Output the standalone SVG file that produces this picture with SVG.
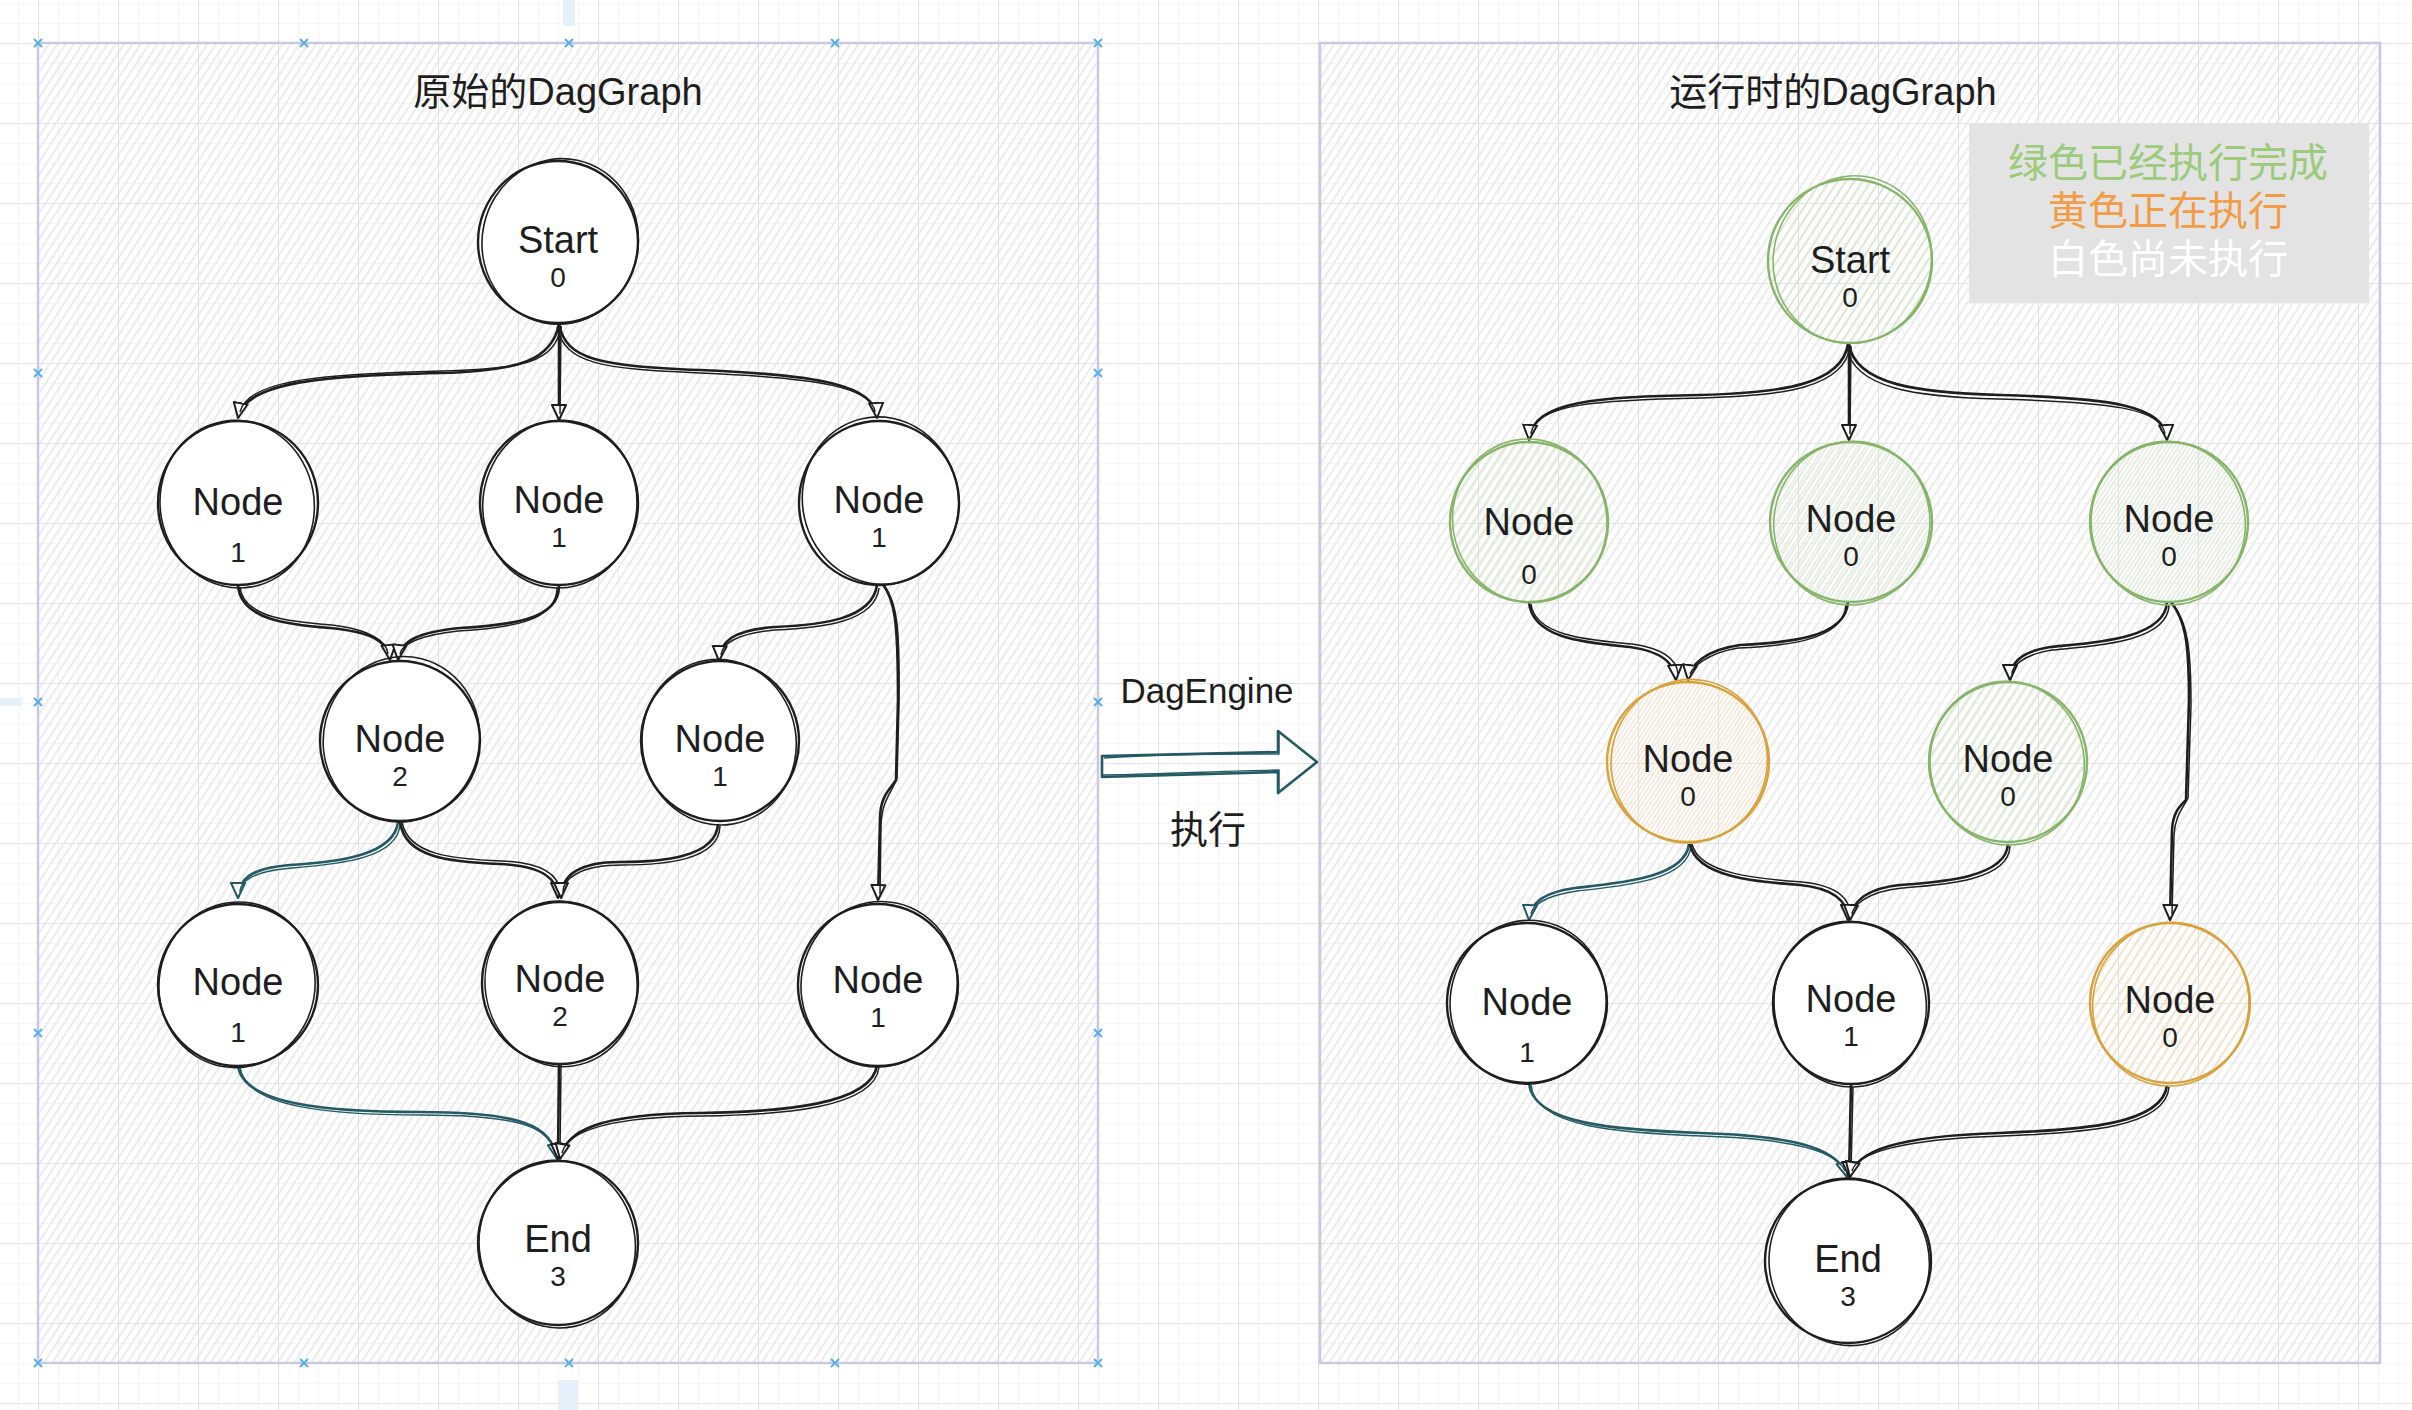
<svg xmlns="http://www.w3.org/2000/svg" xmlns:xlink="http://www.w3.org/1999/xlink" width="2412" height="1410" viewBox="0 0 2412 1410">
<defs>
<pattern id="gridMinor" x="38" y="43" width="20" height="20" patternUnits="userSpaceOnUse">
<path d="M0,0 H20 M0,0 V20" stroke="#efefef" stroke-width="1.2" fill="none"/>
</pattern>
<pattern id="gridMajor" x="38" y="43" width="80" height="80" patternUnits="userSpaceOnUse">
<path d="M0,0 H80 M0,0 V80" stroke="#d2d2d2" stroke-width="1.2" fill="none"/>
</pattern>
<pattern id="hatch" width="7" height="7" patternUnits="userSpaceOnUse" patternTransform="rotate(33)">
<line x1="2" y1="0" x2="2" y2="7" stroke="#e2e2e2" stroke-width="1.3"/>
</pattern>
<pattern id="hG" width="7" height="7" patternUnits="userSpaceOnUse" patternTransform="rotate(33)">
<line x1="2" y1="0" x2="2" y2="7" stroke="#d6e8ca" stroke-width="1.4"/>
</pattern>
<pattern id="hO" width="7" height="7" patternUnits="userSpaceOnUse" patternTransform="rotate(33)">
<line x1="2" y1="0" x2="2" y2="7" stroke="#fbe0c2" stroke-width="1.4"/>
</pattern>
<marker id="arrK" viewBox="0 0 18 18" refX="16" refY="9" markerWidth="18" markerHeight="18" markerUnits="userSpaceOnUse" orient="auto">
<path d="M1,2 L16,9 L1,16 Z" fill="#fff" stroke="#1e1e1e" stroke-width="2" stroke-linejoin="round"/>
</marker>
<marker id="arrT" viewBox="0 0 18 18" refX="16" refY="9" markerWidth="18" markerHeight="18" markerUnits="userSpaceOnUse" orient="auto">
<path d="M1,2 L16,9 L1,16 Z" fill="#fff" stroke="#245a63" stroke-width="2" stroke-linejoin="round"/>
</marker>
<style>
.frame{fill:url(#hatch);stroke:#cbc8e2;stroke-width:2.5}
.sel{stroke:#5aaef0;stroke-width:2;fill:none}
.w1{fill:#fff;stroke:#1e1e1e;stroke-width:2.4}
.w2{fill:none;stroke:#1e1e1e;stroke-width:1.6}
.g1{fill:url(#hG);stroke:#86b56a;stroke-width:2.4}
.g2{fill:none;stroke:#86b56a;stroke-width:1.6}
.o1{fill:url(#hO);stroke:#d8a23c;stroke-width:2.4}
.o2{fill:none;stroke:#d8a23c;stroke-width:1.6}
.t{font-family:"Liberation Sans","Noto Sans CJK SC",sans-serif;font-size:38px;fill:#1e1e1e;text-anchor:middle}
.n{font-size:28px}
.title{font-family:"Liberation Sans","Noto Sans CJK SC",sans-serif;font-size:38px;fill:#1e1e1e;text-anchor:middle}
.leg{font-family:"Liberation Sans","Noto Sans CJK SC",sans-serif;font-size:40px;text-anchor:middle}
.ck{fill:none;stroke:#1e1e1e;stroke-width:2.6;marker-end:url(#arrK)}
.ct{fill:none;stroke:#245a63;stroke-width:2.6;marker-end:url(#arrT)}
.dk{fill:none;stroke:#1e1e1e;stroke-width:1.5}
.dt{fill:none;stroke:#245a63;stroke-width:1.5}
</style>
</defs>

<rect x="0" y="0" width="2412" height="1410" fill="#ffffff"/>
<rect x="0" y="0" width="2412" height="1410" fill="url(#gridMinor)"/>
<rect x="0" y="0" width="2412" height="1410" fill="url(#gridMajor)"/>

<rect x="563" y="0" width="12" height="26" fill="#e4f1fb"/>
<rect x="558" y="1380" width="20" height="30" fill="#e4f1fb"/>
<rect x="0" y="698" width="22" height="8" fill="#e4f1fb"/>

<g id="frame-left">
<rect class="frame" x="38" y="43" width="1060" height="1320"/>
<text class="title" x="558" y="105">原始的DagGraph</text>
</g>
<g id="frame-right">
<rect class="frame" x="1320" y="43" width="1060" height="1320"/>
<text class="title" x="1833" y="105">运行时的DagGraph</text>
</g>

<g id="selection-handles">
<path class="sel" d="M34,39 l8,8 m0,-8 l-8,8 M300,39 l8,8 m0,-8 l-8,8 M565,39 l8,8 m0,-8 l-8,8 M831,39 l8,8 m0,-8 l-8,8 M1094,39 l8,8 m0,-8 l-8,8 M34,1359 l8,8 m0,-8 l-8,8 M300,1359 l8,8 m0,-8 l-8,8 M565,1359 l8,8 m0,-8 l-8,8 M831,1359 l8,8 m0,-8 l-8,8 M1094,1359 l8,8 m0,-8 l-8,8 M34,369 l8,8 m0,-8 l-8,8 M34,698 l8,8 m0,-8 l-8,8 M34,1029 l8,8 m0,-8 l-8,8 M1094,369 l8,8 m0,-8 l-8,8 M1094,698 l8,8 m0,-8 l-8,8 M1094,1029 l8,8 m0,-8 l-8,8"/>
</g>

<g id="legend">
<rect x="1969" y="123" width="400" height="180" fill="#e3e3e3"/>
<text class="leg" x="2168" y="177" fill="#9ccb7b">绿色已经执行完成</text>
<text class="leg" x="2168" y="225" fill="#f39c47">黄色正在执行</text>
<text class="leg" x="2168" y="273" fill="#ffffff">白色尚未执行</text>
</g>

<g id="engine-arrow">
<text class="t" x="1207" y="703" style="font-size:35px">DagEngine</text>
<path d="M1102,756 L1278,752 L1278,731 L1317,762 L1278,793 L1278,772 L1102,777 Z" fill="none" stroke="#245a63" stroke-width="2.6" stroke-linejoin="round"/>
<path d="M1104,758 C1180,753 1240,754 1279,754 L1279,733 M1279,791 L1279,770 C1230,771 1160,774 1103,775" fill="none" stroke="#245a63" stroke-width="1.4"/>
<text class="t" x="1208" y="843">执行</text>
</g>

<g id="connectors">
<!-- left graph -->
<path class="ck" d="M559,324 C552,360 520,371 440,373 C330,376 245,380 238,418"/>
<path class="dk" d="M561,326 C555,363 523,369 442,371 C332,374 248,378 240,412"/>
<path class="ck" d="M559,324 L559,420"/>
<path class="dk" d="M561,326 L560,414"/>
<path class="ck" d="M559,324 C566,360 600,366 700,370 C820,375 875,385 877,418"/>
<path class="dk" d="M557,327 C565,364 602,369 700,373 C822,378 872,388 875,412"/>
<path class="ck" d="M238,585 C240,620 290,625 330,628 C370,632 388,640 390,660"/>
<path class="dk" d="M240,587 C243,618 292,622 332,625 C372,630 387,642 388,654"/>
<path class="ck" d="M559,585 C560,620 510,625 460,628 C420,632 400,640 398,660"/>
<path class="dk" d="M557,588 C557,622 508,628 458,631 C420,635 402,644 400,654"/>
<path class="ck" d="M877,585 C872,620 820,625 775,627 C735,630 720,640 719,661"/>
<path class="dk" d="M879,588 C875,622 822,628 775,630 C737,633 722,644 721,655"/>
<path class="ck" d="M882,583 C895,600 898,620 898,700 L896,780 C890,790 880,795 880,820 L878,900"/>
<path class="dk" d="M884,585 C897,603 900,625 899,705 L897,778 C892,792 882,800 881,825 L880,894"/>
<path class="ct" d="M398,822 C394,855 340,862 290,865 C250,868 238,880 238,898"/>
<path class="dt" d="M400,825 C397,858 342,864 292,868 C252,871 240,882 240,892"/>
<path class="ck" d="M400,822 C405,858 450,862 500,864 C545,866 558,880 558,898"/>
<path class="dk" d="M402,822 C408,855 452,859 502,861 C547,863 559,877 560,892"/>
<path class="ck" d="M718,824 C716,858 660,862 620,862 C575,862 561,878 561,898"/>
<path class="dk" d="M720,826 C719,861 662,865 622,865 C578,865 563,880 563,892"/>
<path class="ct" d="M238,1065 C242,1105 330,1112 420,1112 C520,1112 552,1125 557,1159"/>
<path class="dt" d="M240,1067 C245,1108 332,1115 422,1115 C522,1115 550,1128 555,1153"/>
<path class="ck" d="M559,1063 L558,1159"/>
<path class="dk" d="M561,1065 L560,1153"/>
<path class="ck" d="M877,1065 C872,1105 780,1112 700,1113 C600,1114 565,1130 560,1159"/>
<path class="dk" d="M879,1067 C875,1108 782,1115 702,1116 C602,1117 567,1133 562,1153"/>
<!-- right graph -->
<path class="ck" d="M1848,344 C1842,385 1780,393 1700,395 C1600,397 1532,400 1529,440"/>
<path class="dk" d="M1850,346 C1845,388 1782,396 1702,398 C1602,400 1534,403 1531,434"/>
<path class="ck" d="M1849,344 L1849,440"/>
<path class="dk" d="M1851,346 L1850,434"/>
<path class="ck" d="M1849,344 C1855,385 1920,393 2000,395 C2110,398 2165,405 2167,440"/>
<path class="dk" d="M1847,347 C1853,389 1918,397 1998,399 C2108,402 2162,408 2165,434"/>
<path class="ck" d="M1529,602 C1532,640 1590,643 1630,647 C1665,652 1675,665 1676,680"/>
<path class="dk" d="M1531,604 C1535,637 1592,640 1632,644 C1667,649 1677,662 1678,674"/>
<path class="ck" d="M1848,602 C1846,640 1780,643 1740,645 C1705,650 1690,665 1688,680"/>
<path class="dk" d="M1846,605 C1843,643 1778,646 1738,648 C1707,653 1692,668 1690,674"/>
<path class="ck" d="M2167,602 C2165,640 2090,643 2050,647 C2018,652 2010,665 2010,680"/>
<path class="dk" d="M2169,605 C2168,643 2092,646 2052,650 C2020,655 2012,668 2012,674"/>
<path class="ck" d="M2171,602 C2185,620 2189,640 2189,700 L2186,800 C2180,806 2173,812 2172,830 L2170,920"/>
<path class="dk" d="M2173,604 C2187,623 2191,645 2191,705 L2188,798 C2183,808 2175,816 2174,835 L2172,914"/>
<path class="ct" d="M1689,844 C1685,878 1620,883 1575,888 C1540,893 1530,905 1529,920"/>
<path class="dt" d="M1691,846 C1688,881 1622,886 1577,891 C1542,896 1532,907 1531,914"/>
<path class="ck" d="M1690,844 C1696,878 1760,882 1800,885 C1840,889 1848,905 1848,920"/>
<path class="dk" d="M1692,844 C1699,875 1762,879 1802,882 C1842,886 1850,902 1850,914"/>
<path class="ck" d="M2008,844 C2006,878 1940,882 1900,885 C1862,889 1851,905 1850,920"/>
<path class="dk" d="M2010,846 C2009,881 1942,885 1902,888 C1864,892 1853,907 1852,914"/>
<path class="ct" d="M1529,1083 C1532,1125 1620,1130 1700,1133 C1800,1136 1840,1150 1847,1177"/>
<path class="dt" d="M1531,1085 C1535,1128 1622,1133 1702,1136 C1802,1139 1838,1153 1845,1171"/>
<path class="ck" d="M1851,1085 L1849,1177"/>
<path class="dk" d="M1853,1087 L1851,1171"/>
<path class="ck" d="M2167,1085 C2163,1125 2080,1130 2000,1133 C1900,1136 1855,1150 1850,1177"/>
<path class="dk" d="M2169,1087 C2166,1128 2082,1133 2002,1136 C1902,1139 1857,1153 1852,1171"/>
</g>

<!-- left graph nodes -->
<g id="L-start" transform="translate(558,242)">
<ellipse class="w1" rx="80" ry="81"/>
<ellipse class="w2" rx="78" ry="83" transform="rotate(12) translate(2,-1)"/>
<text class="t" y="11">Start<tspan class="n" x="0" y="45">0</tspan></text>
</g>
<g id="L-node-a1" transform="translate(238,503)">
<ellipse class="w1" rx="80" ry="82"/>
<ellipse class="w2" rx="77" ry="84" transform="rotate(-10) translate(-1,1)"/>
<text class="t" y="12">Node<tspan class="n" x="0" y="59">1</tspan></text>
</g>
<g id="L-node-a2" transform="translate(559,503)">
<ellipse class="w1" rx="79" ry="82"/>
<ellipse class="w2" rx="77" ry="84" transform="rotate(8) translate(1,1)"/>
<text class="t" y="10">Node<tspan class="n" x="0" y="44">1</tspan></text>
</g>
<g id="L-node-a3" transform="translate(879,503)">
<ellipse class="w1" rx="80" ry="82"/>
<ellipse class="w2" rx="78" ry="84" transform="rotate(-12) translate(2,-2)"/>
<text class="t" y="10">Node<tspan class="n" x="0" y="44">1</tspan></text>
</g>
<g id="L-node-b1" transform="translate(400,741)">
<ellipse class="w1" rx="80" ry="80"/>
<ellipse class="w2" rx="78" ry="83" transform="rotate(14) translate(1,-2)"/>
<text class="t" y="11">Node<tspan class="n" x="0" y="45">2</tspan></text>
</g>
<g id="L-node-b2" transform="translate(720,741)">
<ellipse class="w1" rx="79" ry="80"/>
<ellipse class="w2" rx="77" ry="83" transform="rotate(-9) translate(-1,1)"/>
<text class="t" y="11">Node<tspan class="n" x="0" y="45">1</tspan></text>
</g>
<g id="L-node-c1" transform="translate(238,985)">
<ellipse class="w1" rx="80" ry="81"/>
<ellipse class="w2" rx="78" ry="83" transform="rotate(10) translate(-1,0)"/>
<text class="t" y="10">Node<tspan class="n" x="0" y="57">1</tspan></text>
</g>
<g id="L-node-c2" transform="translate(560,983)">
<ellipse class="w1" rx="78" ry="81"/>
<ellipse class="w2" rx="76" ry="83" transform="rotate(-8) translate(1,1)"/>
<text class="t" y="9">Node<tspan class="n" x="0" y="43">2</tspan></text>
</g>
<g id="L-node-c3" transform="translate(878,985)">
<ellipse class="w1" rx="80" ry="81"/>
<ellipse class="w2" rx="78" ry="83" transform="rotate(12) translate(1,-1)"/>
<text class="t" y="8">Node<tspan class="n" x="0" y="42">1</tspan></text>
</g>
<g id="L-end" transform="translate(558,1243)">
<ellipse class="w1" rx="80" ry="82"/>
<ellipse class="w2" rx="78" ry="84" transform="rotate(-11) translate(-1,1)"/>
<text class="t" y="9">End<tspan class="n" x="0" y="43">3</tspan></text>
</g>

<!-- right graph nodes -->
<g id="R-start" transform="translate(1850,261)">
<ellipse class="g1" rx="82" ry="82"/>
<ellipse class="g2" rx="79" ry="84" transform="rotate(14) translate(2,-2)"/>
<text class="t" y="12">Start<tspan class="n" x="0" y="46">0</tspan></text>
</g>
<g id="R-node-a1" transform="translate(1529,522)">
<ellipse class="g1" rx="79" ry="80"/>
<ellipse class="g2" rx="77" ry="82" transform="rotate(-12) translate(1,-1)"/>
<text class="t" y="13">Node<tspan class="n" x="0" y="62">0</tspan></text>
</g>
<g id="R-node-a2" transform="translate(1851,522)">
<ellipse class="g1" rx="81" ry="80"/>
<ellipse class="g2" rx="78" ry="82" transform="rotate(10) translate(1,1)"/>
<text class="t" y="10">Node<tspan class="n" x="0" y="44">0</tspan></text>
</g>
<g id="R-node-a3" transform="translate(2169,522)">
<ellipse class="g1" rx="79" ry="80"/>
<ellipse class="g2" rx="77" ry="82" transform="rotate(-10) translate(-1,1)"/>
<text class="t" y="10">Node<tspan class="n" x="0" y="44">0</tspan></text>
</g>
<g id="R-node-b1" transform="translate(1688,762)">
<ellipse class="o1" rx="81" ry="80"/>
<ellipse class="o2" rx="78" ry="82" transform="rotate(12) translate(1,-1)"/>
<text class="t" y="10">Node<tspan class="n" x="0" y="44">0</tspan></text>
</g>
<g id="R-node-b2" transform="translate(2008,762)">
<ellipse class="g1" rx="79" ry="80"/>
<ellipse class="g2" rx="77" ry="82" transform="rotate(-10) translate(-1,1)"/>
<text class="t" y="10">Node<tspan class="n" x="0" y="44">0</tspan></text>
</g>
<g id="R-node-c1" transform="translate(1527,1003)">
<ellipse class="w1" rx="80" ry="80"/>
<ellipse class="w2" rx="78" ry="82" transform="rotate(10) translate(1,-1)"/>
<text class="t" y="12">Node<tspan class="n" x="0" y="59">1</tspan></text>
</g>
<g id="R-node-c2" transform="translate(1851,1003)">
<ellipse class="w1" rx="78" ry="81"/>
<ellipse class="w2" rx="76" ry="83" transform="rotate(-8) translate(-1,1)"/>
<text class="t" y="9">Node<tspan class="n" x="0" y="43">1</tspan></text>
</g>
<g id="R-node-c3" transform="translate(2170,1003)">
<ellipse class="o1" rx="80" ry="80"/>
<ellipse class="o2" rx="78" ry="82" transform="rotate(12) translate(1,1)"/>
<text class="t" y="10">Node<tspan class="n" x="0" y="44">0</tspan></text>
</g>
<g id="R-end" transform="translate(1848,1261)">
<ellipse class="w1" rx="83" ry="82"/>
<ellipse class="w2" rx="80" ry="84" transform="rotate(-12) translate(1,1)"/>
<text class="t" y="11">End<tspan class="n" x="0" y="45">3</tspan></text>
</g>
</svg>
